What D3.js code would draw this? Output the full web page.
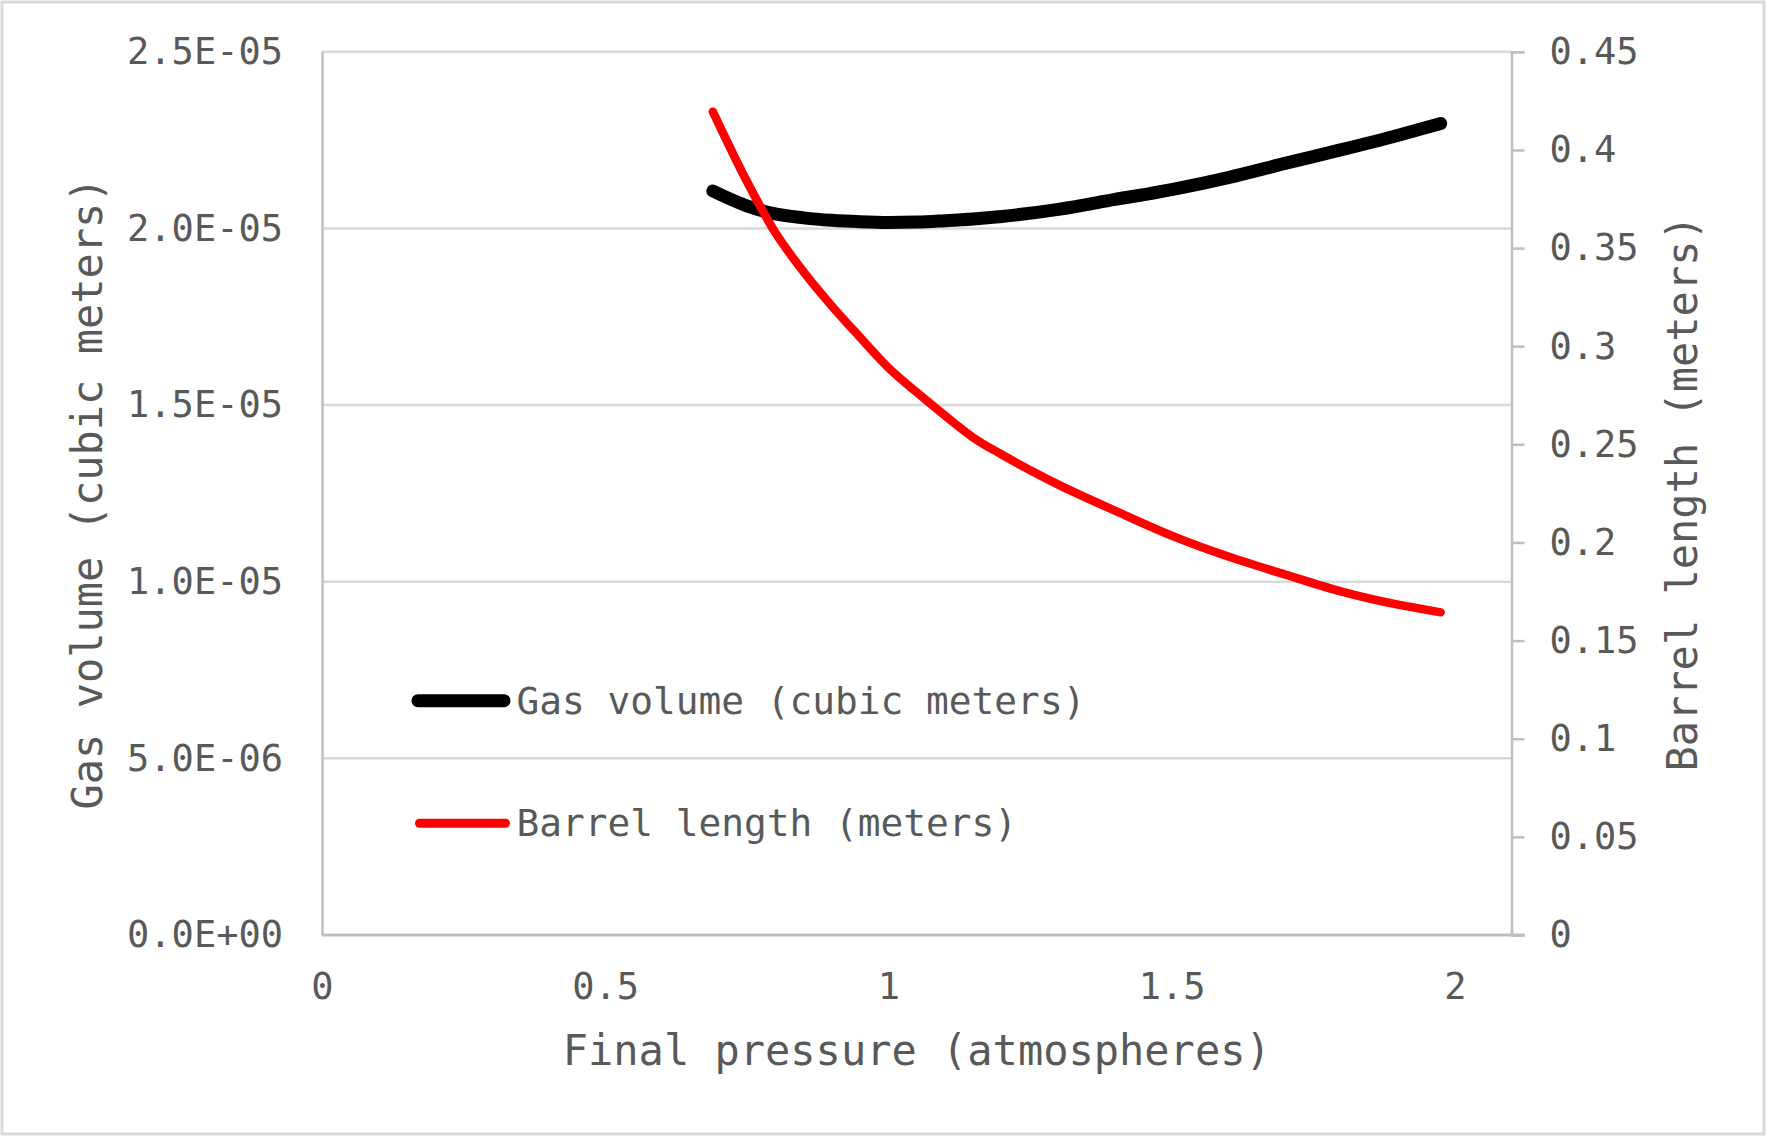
<!DOCTYPE html>
<html>
<head>
<meta charset="utf-8">
<script src="https://cdn.jsdelivr.net/npm/d3@7"></script>
<style>
  html, body { margin: 0; padding: 0; background: #ffffff; }
  svg { display: block; }
  text { font-family: "DejaVu Sans Mono", "Liberation Mono", monospace; fill: #595959; }
</style>
</head>
<body>
<svg id="chart" width="1766" height="1136"></svg>
<script>
// ---- data ----
const pressure = [0.69, 0.75, 0.8, 0.85, 0.9, 0.95, 1.0, 1.05, 1.1, 1.15, 1.2, 1.3, 1.4, 1.5, 1.6, 1.7, 1.8, 1.9, 1.975];
const gasVolume = [2.106e-5, 2.064e-5, 2.041e-5, 2.030e-5, 2.023e-5, 2.019e-5, 2.017e-5, 2.018e-5, 2.022e-5, 2.027e-5,
                   2.034e-5, 2.054e-5, 2.082e-5, 2.110e-5, 2.144e-5, 2.184e-5, 2.223e-5, 2.264e-5, 2.297e-5];
const barrelLength = [0.4195, 0.384, 0.358, 0.338, 0.3205, 0.3045, 0.289, 0.2765, 0.2646, 0.2534,
                      0.2448, 0.2295, 0.2162, 0.2035, 0.1928, 0.1837, 0.1750, 0.1683, 0.1644];
const seriesNames = ["Gas volume (cubic meters)", "Barrel length (meters)"];
const xTicks = [0, 0.5, 1, 1.5, 2];
const leftTicks = [0, 5e-6, 1e-5, 1.5e-5, 2e-5, 2.5e-5];
const rightTicks = [0, 0.05, 0.1, 0.15, 0.2, 0.25, 0.3, 0.35, 0.4, 0.45];
const xTitle = "Final pressure (atmospheres)";
const leftTitle = "Gas volume (cubic meters)";
const rightTitle = "Barrel length (meters)";

// ---- layout ----
const svg = d3.select("#chart");
const L = 322, R = 1511.5, T = 51.8, B = 935;

const x = d3.scaleLinear().domain([0, 2.1]).range([L, R]);
const yL = d3.scaleLinear().domain([0, 2.5e-5]).range([B, T]);
const yR = d3.scaleLinear().domain([0, 0.45]).range([B, T]);

// outer border
svg.append("rect").attr("x", 2).attr("y", 2).attr("width", 1762).attr("height", 1132)
  .attr("fill", "#ffffff").attr("stroke", "#d9d9d9").attr("stroke-width", 3);

// gridlines
svg.append("g").selectAll("line").data(leftTicks.filter(d => d > 0)).join("line")
  .attr("x1", L).attr("x2", R)
  .attr("y1", d => yL(d)).attr("y2", d => yL(d))
  .attr("stroke", "#d9d9d9").attr("stroke-width", 2.5);

const fmtSci = d => {
  const [m, e] = d.toExponential(1).split("e");
  const sign = e[0] === "-" ? "-" : "+";
  const ex = String(Math.abs(+e)).padStart(2, "0");
  return m + "E" + sign + ex;
};

// left axis
const gL = svg.append("g").attr("transform", `translate(${L},0)`)
  .call(d3.axisLeft(yL).tickValues(leftTicks).tickSize(0).tickPadding(39).tickFormat(fmtSci));
gL.select(".domain").attr("stroke", "#bfbfbf").attr("stroke-width", 2.5);
gL.selectAll("text").attr("font-size", 37).attr("font-family", "DejaVu Sans Mono").attr("fill", "#595959");

// right axis
const gR = svg.append("g").attr("transform", `translate(${R},0)`)
  .call(d3.axisRight(yR).tickValues(rightTicks).tickSize(13).tickPadding(25)
    .tickFormat(d => String(+d.toFixed(2))));
gR.select(".domain").attr("stroke", "#bfbfbf").attr("stroke-width", 2.5);
gR.selectAll(".tick line").attr("stroke", "#bfbfbf").attr("stroke-width", 2.5);
gR.selectAll("text").attr("font-size", 37).attr("font-family", "DejaVu Sans Mono").attr("fill", "#595959");

// bottom axis
const gB = svg.append("g").attr("transform", `translate(0,${B})`)
  .call(d3.axisBottom(x).tickValues(xTicks).tickSize(0).tickPadding(38).tickFormat(d => String(d)));
gB.select(".domain").remove();
gB.append("line").attr("x1", L).attr("x2", R + 13).attr("y1", 0).attr("y2", 0)
  .attr("stroke", "#bfbfbf").attr("stroke-width", 3);
gB.selectAll("text").attr("font-size", 37).attr("font-family", "DejaVu Sans Mono").attr("fill", "#595959");

// series lines
const rows = pressure.map((p, i) => ({ p, v: gasVolume[i], l: barrelLength[i] }));
const lineGas = d3.line().x(d => x(d.p)).y(d => yL(d.v)).curve(d3.curveMonotoneX);
const lineBarrel = d3.line().x(d => x(d.p)).y(d => yR(d.l)).curve(d3.curveMonotoneX);

svg.append("path").datum(rows).attr("d", lineGas)
  .attr("fill", "none").attr("stroke", "#000000").attr("stroke-width", 13)
  .attr("stroke-linecap", "round").attr("stroke-linejoin", "round");
svg.append("path").datum(rows).attr("d", lineBarrel)
  .attr("fill", "none").attr("stroke", "#ff0000").attr("stroke-width", 8.5)
  .attr("stroke-linecap", "round").attr("stroke-linejoin", "round");

// legend
const legend = [
  { name: seriesNames[0], color: "#000000", w: 13, y: 700.7, x1: 418, x2: 504 },
  { name: seriesNames[1], color: "#ff0000", w: 9, y: 823.3, x1: 419.5, x2: 505.5 }
];
const lg = svg.append("g").selectAll("g").data(legend).join("g");
lg.append("line").attr("x1", d => d.x1).attr("x2", d => d.x2)
  .attr("y1", d => d.y).attr("y2", d => d.y)
  .attr("stroke", d => d.color).attr("stroke-width", d => d.w).attr("stroke-linecap", "round");
lg.append("text").attr("x", 516.5).attr("y", d => d.y + 12.8)
  .attr("font-size", 37.8).text(d => d.name);

// axis titles
svg.append("text").attr("x", (L + R) / 2).attr("y", 1065).attr("text-anchor", "middle")
  .attr("font-size", 42).text(xTitle);
svg.append("text").attr("transform", `translate(101.5,${(T + B) / 2}) rotate(-90)`)
  .attr("text-anchor", "middle").attr("font-size", 42).text(leftTitle);
svg.append("text").attr("transform", `translate(1697,${(T + B) / 2}) rotate(-90)`)
  .attr("text-anchor", "middle").attr("font-size", 42).text(rightTitle);
</script>
</body>
</html>
